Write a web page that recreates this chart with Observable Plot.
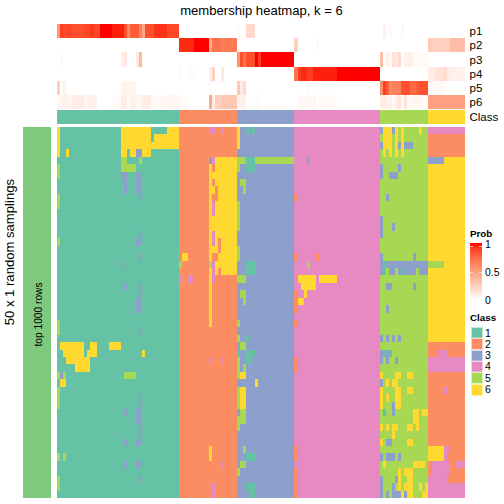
<!DOCTYPE html>
<html>
<head>
<meta charset="utf-8">
<script src="https://cdn.jsdelivr.net/npm/d3@7"></script>
<script src="https://cdn.jsdelivr.net/npm/@observablehq/plot@0.6"></script>
<style>
html,body{margin:0;padding:0;background:#fff}
#wrap{position:relative;width:504px;height:504px;overflow:hidden;font-family:"Liberation Sans",Arial,sans-serif;color:#000}
#wrap svg{position:absolute;left:0;top:0;background:#fff}
.lg{position:absolute;font-size:10.5px;line-height:12px;white-space:nowrap}
.lgt{font-weight:bold;font-size:9.8px}
.sw{position:absolute;width:10px;height:10px;border:.6px solid rgba(255,255,255,.6);box-shadow:0 0 0 .6px rgba(255,255,255,.5)}
</style>
</head>
<body>
<div id="wrap"></div>
<script>
// ---- data ----
const classes = [1, 2, 3, 4, 5, 6];
const classColors = ["#66C2A5", "#FC8D62", "#8DA0CB", "#E78AC3", "#A6D854", "#FFD92F"];
const classSizes = [40, 19, 19, 28, 16, 12];
const probNames = ["p1", "p2", "p3", "p4", "p5", "p6"];
const samplingRows = 50;

// run-length lists: [number of columns, membership probability]
const p1 = [[1,.55],[1,.9],[1,.85],[2,.88],[4,.85],[2,.88],[1,.92],[2,.88],[4,1],[4,.97],[1,.85],[1,.6],[3,.8],[1,.65],[1,.45],[3,.85],[4,.93],[4,.87],
  [19,0],[1,.03],[2,0],[3,.2],[13,0],[28,0],[1,0],[1,.08],[1,0],[1,.03],[3,0],[1,.04],[8,0],[12,0]];
const p2 = [[40,0],[5,.95],[5,1],[1,.45],[1,.7],[2,.72],[1,.65],[4,.68],[19,0],[1,.25],[6,0],[1,.03],[20,0],[16,0],[1,.28],[6,.25],[5,.35]];
const p3 = [[1,0],[1,.03],[19,0],[1,.08],[1,.13],[3,0],[1,.12],[1,.38],[12,0],[19,0],[1,.55],[1,.85],[1,.7],[3,.85],[1,1],[1,.9],[11,1],[28,0],
  [1,.35],[1,.03],[1,.08],[1,.03],[1,.15],[1,.12],[1,.2],[1,.02],[3,.07],[5,.03],[12,0]];
const p4 = [[40,0],[1,.02],[2,0],[2,.02],[5,0],[1,.1],[1,.25],[2,0],[1,.12],[4,0],[19,0],[1,.7],[1,.9],[2,.95],[2,.9],[8,.97],[14,1],[16,0],[2,.1],[3,.15],[1,.2],[1,.1],[5,.08]];
const p5 = [[1,.25],[1,0],[1,.08],[18,0],[5,.06],[14,0],[10,0],[1,.03],[8,0],[1,.3],[1,.1],[1,.2],[16,0],[4,0],[1,.03],[23,0],
  [1,.6],[1,.9],[1,.8],[1,.6],[1,.65],[2,.65],[2,.85],[1,.85],[2,.75],[1,.8],[3,.85],[5,.04],[7,0]];
const p6 = [[1,.04],[1,.06],[2,.07],[1,.06],[4,.1],[1,.05],[3,.07],[5,0],[3,.03],[2,.1],[1,.03],[2,.08],[2,.05],[3,.1],[1,.02],[4,.04],[4,.05],
  [3,.02],[7,0],[1,.45],[1,.1],[2,.25],[5,.3],[3,.07],[3,0],[2,.03],[11,0],[1,0],[6,.04],[1,0],[6,.03],[14,0],
  [2,.1],[2,.07],[1,.03],[1,.1],[1,.15],[1,.02],[1,.15],[2,.03],[2,.05],[3,.03],[12,.5]];

// exceptions to each block's own class: [first row, last row, first column, last column, class]
const block1 = [[0,3,0,0,6],[3,3,3,3,6],[5,6,0,0,5],[9,10,0,0,5],[15,15,0,0,5],[26,27,0,0,5],[33,33,0,0,5],[35,37,0,0,5],[44,44,0,0,5],[47,48,0,0,5],
  [33,33,1,1,3],[33,33,2,2,5],[34,34,1,2,6],[44,44,2,2,5],[29,29,1,8,6],[29,29,11,12,6],[29,29,17,20,6],[30,30,2,8,6],[30,30,10,12,6],[30,30,28,28,6],
  [31,31,3,10,6],[32,32,6,10,6],[33,33,22,25,5],[0,0,21,30,6],[0,0,36,39,6],[1,1,21,30,6],[1,1,32,39,6],[2,2,21,39,6],[3,3,21,22,6],[3,3,24,25,6],
  [3,3,26,27,3],[3,3,28,30,6],[4,4,21,22,5],[4,4,27,27,5],[5,5,21,25,5],[6,6,21,22,3],[6,8,26,27,3],[7,8,22,22,3],[9,9,27,27,3],[14,14,27,27,3],
  [15,15,26,27,3],[17,17,27,27,3],[18,18,21,21,3],[21,21,22,22,3],[21,22,27,27,3],[23,24,26,27,3],[27,27,27,27,3],[36,42,27,27,3],[38,39,26,26,3],
  [38,38,22,22,3],[42,42,22,22,3],[42,42,26,26,3],[45,45,22,22,3],[45,45,26,27,3],[47,47,27,27,3]];
const block2 = [[0,0,50,51,4],[0,0,54,54,4],[4,4,50,50,3],[4,4,51,51,4],[4,4,52,58,6],[5,5,50,50,6],[5,5,52,58,6],[6,6,50,58,6],[7,7,50,50,6],[7,7,52,58,6],
  [8,8,50,51,6],[8,8,53,58,6],[9,9,50,50,6],[9,9,53,58,6],[10,11,50,50,6],[10,11,51,51,4],[10,11,52,58,6],[12,13,50,58,6],[14,15,50,50,6],[14,15,51,51,4],
  [14,14,52,58,6],[15,15,52,52,6],[15,15,54,58,6],[16,16,50,52,6],[16,16,54,58,6],[17,17,41,42,6],[17,17,50,50,6],[17,17,53,58,6],[18,18,40,40,5],
  [18,18,50,50,5],[18,18,51,51,4],[18,18,52,58,6],[19,19,50,50,6],[19,19,51,51,4],[19,19,52,52,6],[19,19,54,58,6],[20,20,40,40,4],[20,20,43,44,4],
  [20,20,50,50,6],[20,20,51,51,4],[21,26,50,50,6],[31,31,50,50,4],[31,31,54,54,4],[43,44,50,50,6],[45,45,54,54,4],[48,49,51,51,4]];
const block3 = [[0,2,59,59,6],[0,0,62,62,1],[0,0,64,64,1],[4,4,59,61,5],[4,4,62,64,1],[4,4,65,77,5],[5,5,59,59,5],[5,5,62,64,1],[7,7,60,61,5],[8,8,61,61,5],
  [10,13,59,59,5],[16,17,59,59,5],[18,19,62,64,1],[20,20,59,61,5],[22,22,60,61,5],[23,23,61,61,5],[26,26,59,59,5],[28,28,59,59,5],[28,28,62,62,1],
  [29,29,60,61,5],[30,30,59,59,1],[30,30,62,64,1],[31,31,59,59,5],[31,31,62,63,1],[32,32,59,59,5],[32,32,61,61,5],[33,33,59,59,5],[33,33,60,61,6],
  [34,34,65,65,6],[35,37,59,59,5],[35,37,60,61,6],[38,38,60,61,5],[39,39,59,61,5],[40,40,59,59,5],[43,43,61,61,5],[44,44,62,64,1],[45,45,60,61,5],
  [46,46,59,59,5],[48,48,62,64,1],[49,49,63,64,1]];
const block4 = [[4,4,82,82,3],[9,9,78,78,2],[17,17,78,78,2],[17,17,85,85,2],[18,18,82,82,5],[20,20,79,84,6],[20,20,86,91,6],[21,21,80,84,6],[22,22,78,78,2],
  [22,22,81,81,6],[23,23,78,78,2],[23,23,79,80,6],[24,24,78,78,2],[26,26,78,78,2],[31,32,78,78,2],[43,44,78,78,2],[46,49,78,78,2]];
const block5 = [[0,0,106,106,3],[0,2,107,109,6],[0,0,110,110,3],[0,3,111,111,6],[0,3,113,113,6],[0,0,119,119,6],[2,2,106,106,3],[2,2,112,112,3],[2,2,114,116,3],
  [3,3,107,107,6],[3,3,109,109,6],[5,6,106,106,3],[5,5,112,112,3],[6,6,109,111,3],[9,9,108,108,3],[12,14,106,106,3],[13,13,110,110,3],[17,19,106,106,3],
  [17,17,117,117,3],[18,19,107,107,1],[18,18,108,121,3],[19,19,109,110,3],[19,19,112,112,3],[19,19,113,113,1],[19,19,114,117,3],[19,19,119,121,3],
  [21,21,108,109,3],[21,21,117,117,3],[24,24,108,108,3],[28,28,106,106,3],[28,28,108,108,3],[28,28,110,110,3],[28,28,112,112,3],[30,31,106,106,3],
  [30,30,107,107,1],[30,31,108,108,3],[30,30,109,109,1],[31,31,111,111,3],[33,33,106,106,6],[33,33,111,112,6],[33,33,115,116,6],[34,34,106,106,3],
  [34,34,108,108,6],[34,34,110,111,6],[35,37,106,106,6],[35,37,111,112,6],[35,35,115,116,6],[36,36,108,108,6],[37,38,110,110,3],[38,38,107,107,1],
  [38,39,117,118,6],[38,38,120,121,6],[40,40,106,106,6],[40,40,108,108,6],[40,40,110,111,6],[40,40,115,116,6],[40,40,118,118,6],[41,41,110,110,6],
  [42,42,106,106,6],[42,42,108,109,3],[42,42,115,116,6],[44,44,106,106,3],[44,44,108,110,3],[44,44,112,112,3],[45,45,107,107,6],[45,45,117,120,6],
  [46,46,112,112,6],[46,46,114,116,6],[47,47,106,106,3],[47,47,111,111,3],[47,47,112,112,6],[47,47,115,116,6],[48,48,106,106,3],[48,48,110,110,3],
  [48,48,112,112,6],[48,48,114,116,6],[48,48,119,119,6],[48,48,121,121,6],[49,49,106,106,3],[49,49,108,108,3],[49,49,110,112,3],[49,49,113,113,6],
  [49,49,114,114,3],[49,49,115,116,6],[49,49,120,121,6]];
const block6 = [[0,0,122,133,4],[1,3,122,133,2],[4,4,122,126,3],[18,18,122,126,5],[29,30,122,133,2],[30,30,125,127,4],[31,32,122,133,4],[33,42,122,133,2],
  [35,35,127,127,4],[43,44,122,133,2],[43,44,122,126,6],[43,43,127,128,4],[44,44,127,127,4],[45,46,122,133,2],[45,46,123,128,4],[45,45,131,133,4],
  [47,47,122,127,4],[47,47,128,133,2],[48,49,122,133,4]];

// ---- tables built from the lists above ----
const columnClass = classes.flatMap((c, i) => Array(classSizes[i]).fill(c));
const nCols = columnClass.length;
const matrix = d3.range(samplingRows).map(() => columnClass.slice());
for (const [r0, r1, c0, c1, k] of [block1, block2, block3, block4, block5, block6].flat())
  for (let r = r0; r <= r1; r++) for (let c = c0; c <= c1; c++) matrix[r][c] = k;

const cells = [];
matrix.forEach((row, r) => row.forEach((k, c) => cells.push({r, c, k})));

// annotation rows sit above the matrix; the y scale is in matrix-row units, x in columns
const annTop = -13.88, annStep = 1.91;
const probColor = d3.interpolateLab("#ffffff", "#ff0000");
const probCells = [];
[p1, p2, p3, p4, p5, p6].forEach((runs, i) => {
  let c = 0;
  for (const [n, v] of runs) for (let j = 0; j < n; j++, c++) probCells.push({i, c, v});
});
const classStrip = columnClass.map((k, c) => ({c, k}));
const classStripRange = [-2.29, -0.4];
const sideBarRange = [-11.17, -1.97];

const plot = Plot.plot({
  width: 504, height: 504,
  marginLeft: 0, marginRight: 0, marginTop: 0, marginBottom: 0,
  x: {type: "linear", domain: [0, nCols], range: [57, 465], axis: null},
  y: {type: "linear", domain: [0, samplingRows], range: [127, 498], axis: null},
  color: {type: "ordinal", domain: classes, range: classColors},
  style: {fontFamily: '"Liberation Sans", Arial, sans-serif', background: "#fff"},
  marks: [
    Plot.rect(probCells, {x1: "c", x2: d => d.c + 1, y1: d => annTop + d.i * annStep, y2: d => annTop + (d.i + 1) * annStep,
      fill: d => probColor(d.v), shapeRendering: "crispEdges"}),
    Plot.rect(classStrip, {x1: "c", x2: d => d.c + 1, y1: classStripRange[0], y2: classStripRange[1], fill: "k", shapeRendering: "crispEdges"}),
    Plot.rect(cells, {x1: "c", x2: d => d.c + 1, y1: "r", y2: d => d.r + 1, fill: "k", shapeRendering: "crispEdges"}),
    Plot.rect(["top 1000 rows"], {x1: sideBarRange[0], x2: sideBarRange[1], y1: 0, y2: samplingRows, fill: "#7FC97F", shapeRendering: "crispEdges"}),
    Plot.text(["top 1000 rows"], {x: 0, y: 25.2, dx: -19, rotate: -90, fontSize: 10.2, fill: "#000", text: d => d}),
    Plot.text(["50 x 1 random samplings"], {x: 0, y: 16.8, dx: -47.5, rotate: -90, fontSize: 13.1, fill: "#000", text: d => d}),
    Plot.text(["membership heatmap, k = 6"], {x: nCols / 2, y: -15.72, fontSize: 13.1, fill: "#000", text: d => d}),
    Plot.text(probNames, {x: nCols, y: (d, i) => annTop + (i + 0.5) * annStep, dx: 4, textAnchor: "start", fontSize: 11.5, fill: "#000", text: d => d}),
    Plot.text(["Class"], {x: nCols, y: -1.35, dx: 4, textAnchor: "start", fontSize: 11.5, fill: "#000", text: d => d})
  ]
});

const wrap = document.getElementById("wrap");
wrap.appendChild(plot);

// legends, added next to the heatmap
function addDiv(cls, css, text) {
  const d = document.createElement("div");
  d.className = cls; d.style.cssText = css; if (text !== undefined) d.textContent = text;
  wrap.appendChild(d); return d;
}
addDiv("lg lgt", "left:470px;top:228px", "Prob");
const stops = d3.range(0, 1.001, 0.1).map(v => probColor(v)).reverse().join(",");
addDiv("", `position:absolute;left:470px;top:243px;width:12px;height:57px;background:linear-gradient(to bottom,${stops})`);
[[1, 243.5], [0.5, 271.7], [0, 299.5]].forEach(([v, y]) => {
  addDiv("lg", `left:485px;top:${y - 6}px`, String(v));
  if (v !== 0) {
    addDiv("", `position:absolute;left:470px;top:${y + (v === 1 ? 2 : 0.5)}px;width:3px;height:1px;background:rgba(255,255,255,.6)`);
    addDiv("", `position:absolute;left:479px;top:${y + (v === 1 ? 2 : 0.5)}px;width:3px;height:1px;background:rgba(255,255,255,.6)`);
  }
});
addDiv("lg lgt", "left:470px;top:312px", "Class");
classes.forEach((k, i) => {
  const y = 327 + i * 11.33;
  addDiv("sw", `left:471px;top:${y}px;background:${classColors[i]}`);
  addDiv("lg", `left:485px;top:${y - 0.5}px`, String(k));
});
</script>
</body>
</html>
